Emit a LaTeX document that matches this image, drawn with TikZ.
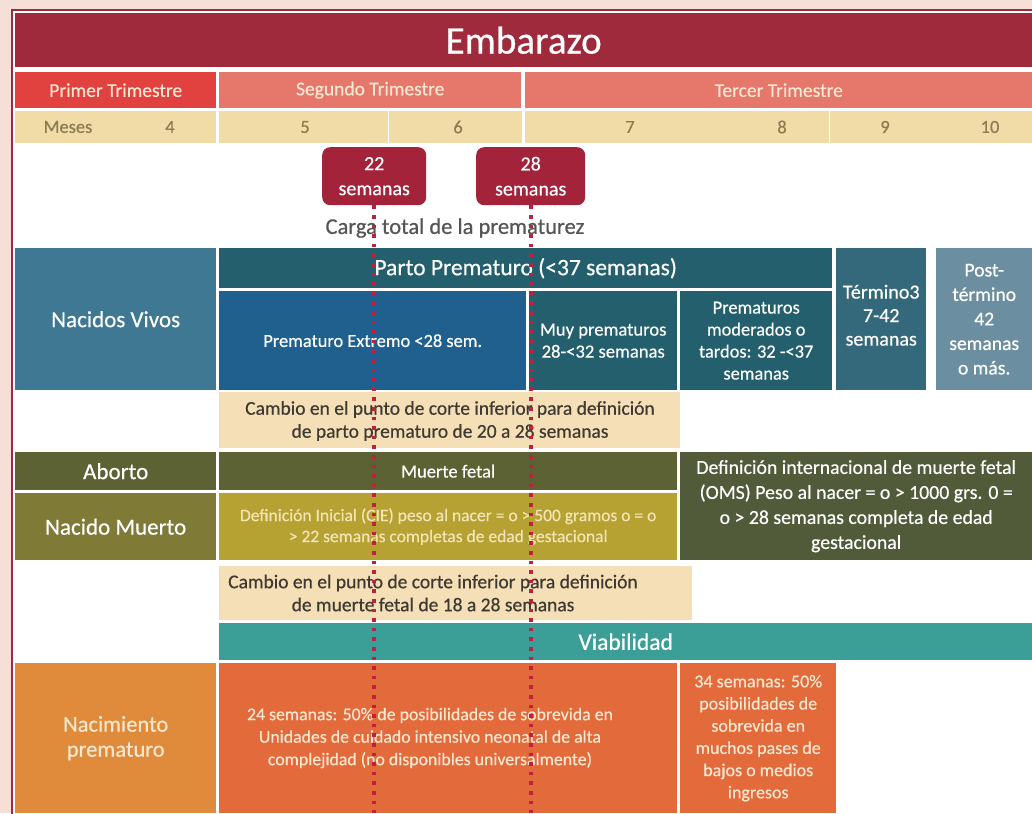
\documentclass[tikz,border=0pt]{standalone}
\usepackage{fontspec}
\setmainfont{Carlito}[FakeBold=0.5]
\definecolor{bgpink}{HTML}{F6DFD6}
\definecolor{wine}{HTML}{9E2A3B}
\definecolor{redtri}{HTML}{E2423F}
\definecolor{salmon}{HTML}{E6786B}
\definecolor{tritext}{HTML}{FCE8D2}
\definecolor{mesbeige}{HTML}{F1DBA6}
\definecolor{mestext}{HTML}{8C7C55}
\definecolor{weekred}{HTML}{A3233A}
\definecolor{carga}{HTML}{555555}
\definecolor{steel}{HTML}{3E7893}
\definecolor{tealdark}{HTML}{245F6E}
\definecolor{blueext}{HTML}{20608F}
\definecolor{termino}{HTML}{33697A}
\definecolor{post}{HTML}{6B8FA0}
\definecolor{cambiob}{HTML}{F4DFB6}
\definecolor{cambiotext}{HTML}{3E3A33}
\definecolor{olivedark}{HTML}{5D6234}
\definecolor{olive}{HTML}{807A37}
\definecolor{mustard}{HTML}{B5A233}
\definecolor{mustext}{HTML}{F3E3B5}
\definecolor{oms}{HTML}{515A39}
\definecolor{viab}{HTML}{3C9F97}
\definecolor{orangel}{HTML}{E08A3C}
\definecolor{orangered}{HTML}{E36A3B}
\definecolor{cream}{HTML}{FBE7CF}
\definecolor{dotred}{HTML}{C21F3F}
\newcommand\fsz[2]{\fontsize{#1}{#2}\selectfont}
\tikzset{
 cell/.style={anchor=north west, inner sep=0pt, align=center, text=white},
 wh/.style 2 args={minimum width=#1pt, minimum height=#2pt},
 tri/.style={cell, text=tritext, font=\fsz{19.5}{20}},
 mes/.style={text=mestext, font=\fsz{18.5}{20}},
 week/.style={cell, fill=weekred, rounded corners=8pt, font=\fsz{20}{25}},
 cambiotxt/.style={align=center, text=cambiotext, font=\fsz{19.5}{23}},
 dotline/.style={dotred, line width=3.6pt, dash pattern=on 3.6pt off 6pt}
}
\begin{document}
\begin{tikzpicture}[x=1pt,y=-1pt]
 \useasboundingbox (0,0) rectangle (1032,813);
 \fill[bgpink] (0,0) rectangle (1032,813);
 \filldraw[fill=white, draw=wine, line width=1.2pt] (12,10) rectangle (1040,820);
 \node[cell, wh={1017}{54}, fill=wine, font=\fsz{39}{40}] (title) at (15,13) {Embarazo};
 \node[tri, wh={201}{36}, fill=redtri] (t1) at (15,72) {Primer Trimestre};
 \node[tri, wh={302}{36}, fill=salmon] (t2) at (219,72) {Segundo Trimestre};
 \node[tri, wh={507}{36}, fill=salmon] (t3) at (525,72) {Tercer Trimestre};
 \node[cell, wh={201}{32}, fill=mesbeige] (m1) at (15,111) {};
 \node[cell, wh={169}{32}, fill=mesbeige] (m2) at (219,111) {};
 \node[cell, wh={133}{32}, fill=mesbeige] (m3) at (389,111) {};
 \node[cell, wh={304}{32}, fill=mesbeige] (m4) at (525,111) {};
 \node[cell, wh={202}{32}, fill=mesbeige] (m5) at (830,111) {};
 \node[mes] (meses) at (68,127) {Meses};
 \node[mes] (n4) at (170,127) {4};
 \node[mes] (n5) at (305,127) {5};
 \node[mes] (n6) at (458,127) {6};
 \node[mes] (n7) at (630,127) {7};
 \node[mes] (n8) at (782,127) {8};
 \node[mes] (n9) at (885,127) {9};
 \node[mes] (n10) at (990,127) {10};
 \node[week, wh={104}{58}] (w22) at (322,147) {22\\semanas};
 \node[week, wh={109}{58}] (w28) at (476,147) {28\\semanas};
 \node[text=carga, font=\fsz{22.5}{24}] (carga) at (455,228) {Carga total de la prematurez};
 \node[cell, wh={201}{142}, fill=steel, font=\fsz{23}{24}] (vivos) at (15,248) {Nacidos Vivos};
 \node[cell, wh={613}{40}, fill=tealdark, font=\fsz{23.5}{24}] (parto) at (219,248) {Parto Prematuro (<37 semanas)};
 \node[cell, wh={307}{99}, fill=blueext, font=\fsz{18.4}{22}] (extremo) at (219,291) {Prematuro Extremo <28 sem.};
 \node[cell, wh={148}{99}, fill=tealdark, font=\fsz{18.6}{22}] (muy) at (529,291) {Muy prematuros\\28-<32 semanas};
 \node[cell, wh={152}{99}, fill=tealdark, font=\fsz{18.4}{22}] (moder) at (680,291) {Prematuros\\moderados o\\tardos: 32 -<37\\semanas};
 \node[cell, wh={90}{142}, fill=termino, font=\fsz{20}{23.5}, text depth=8pt] (termino) at (836,248) {Término3\\7-42\\semanas};
 \node[cell, wh={96}{142}, fill=post, font=\fsz{19.6}{24.5}] (postt) at (936,248) {Post-\\término\\42\\semanas\\o más.};
 \node[cell, wh={461}{56}, fill=cambiob] (cambio1) at (219,392) {};
 \node[cambiotxt] (cambio1t) at (450,421) {Cambio en el punto de corte inferior para definición\\de parto prematuro de 20 a 28 semanas};
 \node[cell, wh={201}{38}, fill=olivedark, font=\fsz{23}{24}] (aborto) at (15,452) {Aborto};
 \node[cell, wh={458}{38}, fill=olivedark, font=\fsz{18.5}{22}] (muerte) at (219,452) {Muerte fetal};
 \node[cell, wh={201}{67}, fill=olive, font=\fsz{23}{24}] (nacmuerto) at (15,493) {Nacido Muerto};
 \node[cell, wh={458}{67}, fill=mustard, text=mustext, font=\fsz{17.5}{21}] (cie) at (219,493) {Definición Inicial (CIE) peso al nacer = o > 500 gramos o = o\\> 22 semanas completas de edad gestacional};
 \node[cell, wh={352}{108}, fill=oms, font=\fsz{19.8}{25}] (omsdef) at (680,452) {Definición internacional de muerte fetal\\(OMS) Peso al nacer = o > 1000 grs. 0 =\\o > 28 semanas completa de edad\\gestacional};
 \node[cell, wh={473}{54}, fill=cambiob] (cambio2) at (219,566) {};
 \node[cambiotxt] (cambio2t) at (433,593) {Cambio en el punto de corte inferior para definición\\de muerte fetal de 18 a 28 semanas};
 \node[cell, wh={813}{37}, fill=viab, font=\fsz{23.5}{24}] (viab) at (219,623) {Viabilidad};
 \node[cell, wh={201}{150}, fill=orangel, text=cream, font=\fsz{22.5}{25}] (nacprem) at (15,663) {Nacimiento\\prematuro};
 \node[cell, wh={458}{150}, fill=orangered] (s24) at (219,663) {};
 \node[align=center, text=cream, font=\fsz{17.8}{22.5}] (s24t) at (430,738) {24 semanas: 50\% de posibilidades de sobrevida en\\Unidades de cuidado intensivo neonatal de alta\\complejidad (no disponibles universalmente)};
 \node[cell, wh={156}{150}, fill=orangered, text=cream, font=\fsz{18}{22.2}] (s34) at (680,663) {34 semanas: 50\%\\posibilidades de\\sobrevida en\\muchos pases de\\bajos o medios\\ingresos};
 \coordinate (e22) at (w22.south |- 0,813);
 \coordinate (e28) at (w28.south |- 0,813);
 \draw[dotline] (w22.south) -- (e22);
 \draw[dotline] (w28.south) -- (e28);
\end{tikzpicture}
\end{document}
